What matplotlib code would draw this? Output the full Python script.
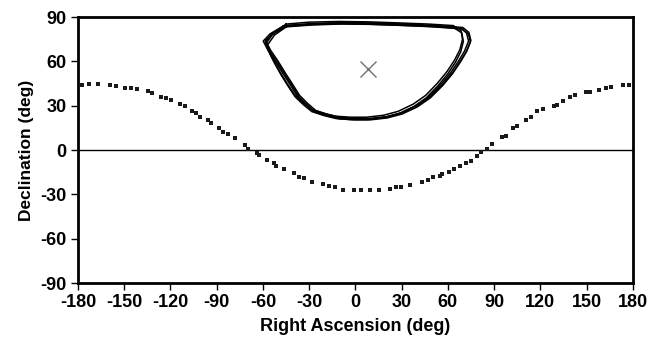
import matplotlib
matplotlib.use("Agg")
import matplotlib.pyplot as plt
import numpy as np

# Dotted curve (RA, Dec)
curve_ra = [-177.2, -172.9, -167.2, -159.2, -155.5, -149.5, -145.6, -141.9, -134.5, -131.9,
            -126.1, -123.0, -119.6, -113.7, -110.5, -106.1, -103.5, -100.7, -95.7, -93.6,
            -88.8, -85.6, -82.7, -78.4, -71.9, -69.7, -63.9, -62.4, -57.4, -53.1,
            -51.6, -46.6, -40.1, -36.9, -33.1, -28.2, -21.3, -17.4, -13.0, -8.3,
            -1.1, 3.7, 9.7, 15.1, 22.3, 26.0, 29.7, 35.7, 43.3, 47.0,
            50.5, 54.8, 56.3, 60.6, 63.9, 67.8, 71.5, 74.7, 79.1, 81.2,
            85.6, 88.8, 95.3, 97.4, 102.5, 105.1, 110.5, 113.7, 118.1, 121.9,
            128.8, 131.0, 134.9, 139.2, 142.3, 149.4, 152.2, 158.1, 162.4, 166.1,
            173.3, 177.6]
curve_dec = [44.0, 44.7, 44.7, 44.0, 43.5, 41.9, 41.9, 41.1, 40.1, 38.6,
             36.0, 35.2, 33.8, 30.9, 30.0, 26.6, 24.8, 22.5, 20.3, 18.3,
             14.7, 12.0, 10.8, 7.9, 3.4, 0.7, -2.0, -3.2, -6.6, -9.0,
             -10.6, -12.9, -15.6, -18.1, -19.2, -21.4, -23.0, -24.1, -25.2, -26.8,
             -26.8, -26.8, -27.1, -27.1, -26.4, -25.2, -24.8, -23.5, -21.4, -20.1,
             -18.5, -17.4, -16.4, -14.7, -12.9, -11.0, -8.8, -7.4, -3.8, -1.6,
             0.7, 4.1, 8.6, 9.7, 14.9, 16.4, 20.3, 22.5, 26.2, 27.7,
             30.0, 30.7, 33.5, 35.7, 37.5, 39.1, 39.1, 40.9, 42.1, 42.9,
             44.0, 44.0]

# Closed loop boundary, two variants of the corners (RA, Dec)
loop_a_ra = [-46.8, -29.3, -9.8, 9.7, 29.2, 48.7, 68.2, 72.1, 73.4, 70.8, 66.9, 61.7,
             55.2, 47.4, 39.0, 29.2, 19.5, 8.4, -2.0, -11.7, -19.5, -27.3, -32.5, -37.7,
             -42.2, -46.8, -52.0, -56.5, -59.8, -55.5, -46.8]
loop_a_dec = [83.9, 85.2, 85.9, 85.6, 84.9, 84.0, 82.5, 79.2, 73.7, 67.0, 60.2, 52.1,
              44.0, 35.9, 29.8, 25.0, 22.3, 21.0, 21.0, 21.7, 23.7, 26.4, 31.1, 36.5,
              44.0, 51.4, 60.2, 67.0, 73.7, 78.5, 83.9]
loop_b_ra = [-44.0, -29.3, -9.8, 9.7, 29.2, 48.7, 64.5, 69.5, 70.5, 68.8, 65.5, 60.5,
             54.2, 46.6, 38.4, 28.8, 19.2, 8.2, -2.3, -12.0, -19.9, -27.8, -33.2, -38.6,
             -43.3, -47.6, -52.0, -55.0, -56.6, -52.0, -44.0]
loop_b_dec = [84.6, 85.9, 86.4, 86.1, 85.4, 84.6, 83.6, 80.3, 74.4, 67.4, 60.6, 52.6,
              44.6, 36.4, 30.4, 25.6, 22.9, 21.6, 21.6, 22.3, 24.3, 27.0, 31.6, 37.0,
              44.4, 51.6, 59.8, 66.0, 72.0, 78.8, 84.6]
# Repeated traces of the loop, each slightly shifted (RA shift, Dec shift)
trace_dra = [0.0, -1.0, 1.2, -0.5, 1.5]
trace_ddec = [0.0, 0.6, -0.6, -1.0, 0.4]
trace_variant = ['a', 'b', 'a', 'b', 'a']

center_ra = [8.4]
center_dec = [54.8]

xticks = [-180, -150, -120, -90, -60, -30, 0, 30, 60, 90, 120, 150, 180]
yticks = [-90, -60, -30, 0, 30, 60, 90]

plt.rcParams['font.family'] = ['Liberation Sans', 'DejaVu Sans']
plt.rcParams['axes.unicode_minus'] = False
fig = plt.figure(figsize=(6.62, 3.47), dpi=100)
ax = fig.add_axes([0.1178, 0.1844, 0.956 - 0.1178, 0.951 - 0.1844])

ax.axhline(0, color='black', lw=1.0, zorder=1)
ax.plot(curve_ra, curve_dec, ls='none', marker='s', ms=3.0, color='#1a1a1a', mew=0, zorder=3)

variants = {'a': (np.array(loop_a_ra), np.array(loop_a_dec)),
            'b': (np.array(loop_b_ra), np.array(loop_b_dec))}
for dra, ddec, v in zip(trace_dra, trace_ddec, trace_variant):
    lra, ldec = variants[v]
    ax.plot(lra + dra, ldec + ddec, color='black', lw=1.1, zorder=2)

ax.plot(center_ra, center_dec, ls='none', marker='x', ms=11, mew=1.0, color='#707070', zorder=4)

ax.set_xlim(-180, 180)
ax.set_ylim(-90, 90)
ax.set_xticks(xticks)
ax.set_yticks(yticks)
for s in ax.spines.values():
    s.set_linewidth(2.0)
ax.tick_params(direction='out', length=5, width=1.0, labelsize=13, pad=3)
for lab in ax.get_xticklabels() + ax.get_yticklabels():
    lab.set_fontweight('bold')
ax.set_xlabel('Right Ascension (deg)', fontsize=13, fontweight='bold', labelpad=5)
ax.set_ylabel('Declination (deg)', fontsize=12.5, fontweight='bold', labelpad=5)

fig.savefig('out.png', dpi=100)
